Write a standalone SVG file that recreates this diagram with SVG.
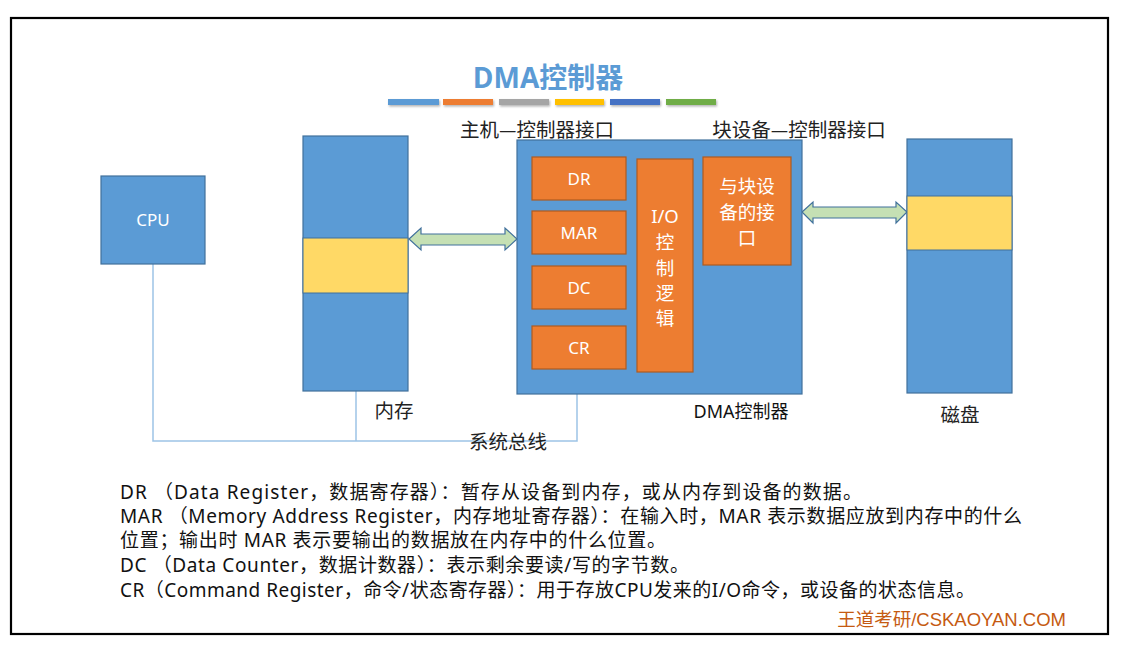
<svg xmlns="http://www.w3.org/2000/svg" width="1124" height="645" viewBox="0 0 1124 645">
<style>
.blue{fill:#5B9BD5;stroke:#41719C;stroke-width:1.2}
.org{fill:#ED7D31;stroke:#AE5A21;stroke-width:1.2}
.yel{fill:#FFD966;stroke:#41719C;stroke-width:1}
.arr{fill:#C5E0B4;stroke:#41719C;stroke-width:1.2}
.bus{fill:none;stroke:#9DC3E6;stroke-width:1.5}
.wt{font-family:"Noto Sans","Noto Sans CJK SC",sans-serif;font-size:17px;fill:#fff;text-anchor:middle}
.wc{font-family:"Noto Sans","Noto Sans CJK SC",sans-serif;font-size:18.5px;fill:#fff;text-anchor:middle}
.lbl{font-family:"Noto Sans CJK SC","Noto Sans",sans-serif;font-size:19.5px;fill:#222;text-anchor:middle}
.body{font-family:"Noto Sans","Noto Sans CJK SC",sans-serif;font-size:19px;fill:#111}
</style>
<defs>
<filter id="sh" x="-10%" y="-50%" width="120%" height="250%"><feDropShadow dx="1" dy="1.5" stdDeviation="1" flood-color="#000" flood-opacity="0.3"/></filter>
</defs>
<rect x="0" y="0" width="1124" height="645" fill="#fff"/>
<rect x="11" y="18" width="1097" height="616" fill="#fff" stroke="#000" stroke-width="2.2"/>
<text x="548" y="88" font-family="Open Sans,'Noto Sans CJK SC',sans-serif" font-weight="bold" font-size="28" fill="#5B9BD5" text-anchor="middle">DMA控制器</text>
<g filter="url(#sh)">
<rect x="388" y="99" width="51" height="6" fill="#5B9BD5"/>
<rect x="443" y="99" width="50" height="6" fill="#ED7D31"/>
<rect x="499" y="99" width="50" height="6" fill="#A5A5A5"/>
<rect x="555" y="99" width="49" height="6" fill="#FFC000"/>
<rect x="610" y="99" width="50" height="6" fill="#4472C4"/>
<rect x="666" y="99" width="50" height="6" fill="#70AD47"/>
</g>
<g id="connectors">
<polyline class="bus" points="153,264 153,441 577,441 577,394"/>
<line class="bus" x1="356" y1="391" x2="356" y2="441"/>
<path class="arr" d="M409,239 L421,228 L421,234 L505,234 L505,228 L517,239 L505,250 L505,245 L421,245 L421,250 Z"/>
<path class="arr" d="M802,212 L813,202 L813,207 L896,207 L896,202 L907,212 L896,223 L896,218 L813,218 L813,223 Z"/>
</g>
<g id="cpu"><rect class="blue" x="101" y="176" width="104" height="88"/><text class="wt" x="153" y="226">CPU</text></g>
<g id="memory"><rect class="blue" x="303" y="136" width="105" height="255"/><rect class="yel" x="303" y="238" width="105" height="55"/><text class="lbl" x="394" y="418">内存</text></g>
<g id="dma">
<rect class="blue" x="517" y="140" width="285" height="254"/>
<g id="dr"><rect class="org" x="532" y="157" width="94" height="43"/><text class="wt" x="579" y="185">DR</text></g>
<g id="mar"><rect class="org" x="532" y="211" width="94" height="43"/><text class="wt" x="579" y="239">MAR</text></g>
<g id="dc"><rect class="org" x="532" y="266" width="94" height="43"/><text class="wt" x="579" y="294">DC</text></g>
<g id="cr"><rect class="org" x="532" y="326" width="94" height="43"/><text class="wt" x="579" y="354">CR</text></g>
<g id="io"><rect class="org" x="637" y="159" width="56" height="213"/>
<text class="wc" x="665" y="223">I/O</text><text class="wc" x="665" y="249">控</text><text class="wc" x="665" y="275">制</text><text class="wc" x="665" y="300">逻</text><text class="wc" x="665" y="325">辑</text></g>
<g id="devif"><rect class="org" x="703" y="157" width="88" height="108"/>
<text class="wc" x="747" y="193">与块设</text><text class="wc" x="747" y="219">备的接</text><text class="wc" x="747" y="245">口</text></g>
<text x="741" y="418" font-family="Noto Sans,'Noto Sans CJK SC',sans-serif" font-size="18" fill="#111" text-anchor="middle">DMA控制器</text>
</g>
<g id="disk"><rect class="blue" x="907" y="139" width="105" height="254"/><rect class="yel" x="907" y="196" width="105" height="54"/><text class="lbl" x="960" y="422">磁盘</text></g>
<text class="lbl" x="537" y="137">主机—控制器接口</text>
<text class="lbl" x="799" y="137">块设备—控制器接口</text>
<text class="lbl" x="508" y="449">系统总线</text>
<g class="body">
<text x="120" y="499" textLength="742" lengthAdjust="spacing">DR （Data Register，数据寄存器）：暂存从设备到内存，或从内存到设备的数据。</text>
<text x="120" y="523" textLength="902" lengthAdjust="spacing">MAR （Memory Address Register，内存地址寄存器）：在输入时，MAR 表示数据应放到内存中的什么</text>
<text x="120" y="547" textLength="546" lengthAdjust="spacing">位置；输出时 MAR 表示要输出的数据放在内存中的什么位置。</text>
<text x="120" y="572" textLength="569" lengthAdjust="spacing">DC （Data Counter，数据计数器）：表示剩余要读/写的字节数。</text>
<text x="120" y="597" textLength="855" lengthAdjust="spacing">CR（Command Register，命令/状态寄存器）：用于存放CPU发来的I/O命令，或设备的状态信息。</text>
</g>
<text x="1066" y="626" text-anchor="end" font-family="Liberation Sans,'Noto Sans CJK SC',sans-serif" font-size="18.5" fill="#C55A11">王道考研/CSKAOYAN.COM</text>
</svg>
